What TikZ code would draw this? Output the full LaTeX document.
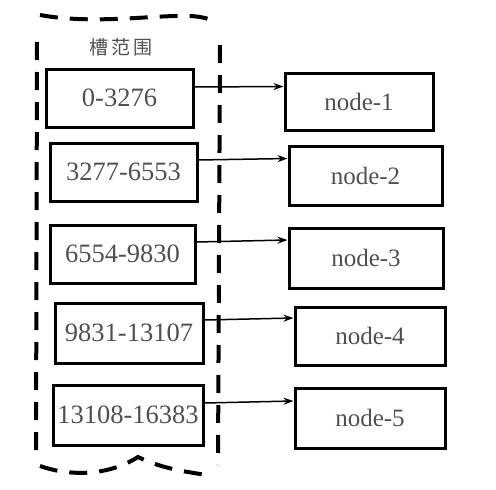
\documentclass[tikz,border=0pt]{standalone}
\usepackage{fontspec}
\setmainfont{Liberation Serif}
\newfontfamily\cjk{Noto Sans CJK SC}
\usetikzlibrary{arrows.meta}
\definecolor{txt}{HTML}{505050}
\tikzset{
  box/.style={draw=black, line width=3pt, inner sep=0pt, text=txt, font=\fontsize{26.5}{29}\selectfont},
  rbox/.style={box, font=\fontsize{25}{28}\selectfont},
  cont/.style={draw=black, line width=4pt, dash pattern=on 18pt off 12pt},
  link/.style={draw=black, line width=1.5pt, -{Stealth[length=10pt,width=7pt]}}
}
\begin{document}
\begin{tikzpicture}[x=1pt,y=-1pt]
\useasboundingbox (0,0) rectangle (496,490);
% container
\draw[cont] (40,15) .. controls (100,26) and (170,12) .. (200,17) .. controls (210,19) .. (215,25);
\draw[cont] (37,42) -- (36,457);
\draw[cont] (220,45) -- (218,465);
\draw[cont] (40,466) .. controls (65,475) and (105,478) .. (138,457) .. controls (165,470) and (190,472) .. (212,476);
\node[text=txt, font=\cjk\fontsize{19}{22}\selectfont] (title) at (121,47) {槽\,范\,围};
% left boxes
\node[box, minimum width=147pt, minimum height=58pt] (l1) at (119.5,98) {0-3276};
\node[box, minimum width=147pt, minimum height=58pt] (l2) at (123.5,172) {3277-6553};
\node[box, minimum width=145pt, minimum height=58pt] (l3) at (122.5,254) {6554-9830};
\node[box, minimum width=148pt, minimum height=60pt] (l4) at (129,333) {9831-13107};
\node[box, minimum width=150pt, minimum height=60pt] (l5) at (128,415) {13108-16383};
% right boxes
\node[rbox, minimum width=148pt, minimum height=57pt] (r1) at (359,101.5) {node-1};
\node[rbox, minimum width=153pt, minimum height=59pt] (r2) at (365.5,175.5) {node-2};
\node[rbox, minimum width=154pt, minimum height=60pt] (r3) at (366,258) {node-3};
\node[rbox, minimum width=150pt, minimum height=58pt] (r4) at (370,336) {node-4};
\node[rbox, minimum width=150pt, minimum height=60pt] (r5) at (370,418) {node-5};
% links
\draw[link] ([yshift=11pt]l1.east) -- ([yshift=15pt]r1.west);
\draw[link] ([yshift=12pt]l2.east) -- ([yshift=17pt]r2.west);
\draw[link] ([yshift=12pt]l3.east) -- ([yshift=18pt]r3.west);
\draw[link] ([yshift=13pt]l4.east) -- ([yshift=18pt]r4.west);
\draw[link] ([yshift=12pt]l5.east) -- ([yshift=17pt]r5.west);
\end{tikzpicture}
\end{document}
